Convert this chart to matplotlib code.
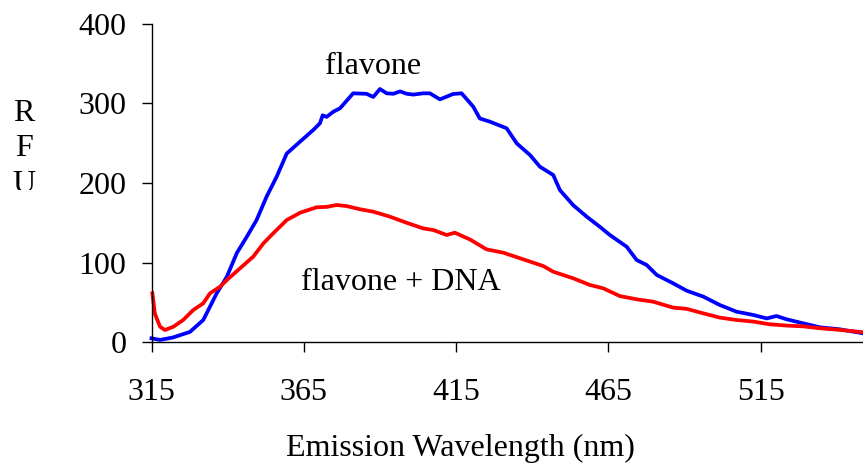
import numpy as np
import matplotlib.pyplot as plt
from matplotlib.transforms import Bbox, TransformedBbox

# emission spectra (nm, RFU)
wl_flavone = [315, 317.8, 322, 327.6, 332, 336.4, 339.7, 343, 346.3, 349.5, 352.8, 356.1,
              359.4, 363.8, 368.1, 370.3, 371.2, 372.5, 374.7, 376.9, 381.2, 385.6, 387.8,
              390, 392.2, 394.4, 396.6, 398.8, 401, 404.2, 406.4, 409.7, 414, 416.8, 420.6,
              422.8, 426.1, 431.6, 434.9, 439.3, 442.5, 446.9, 449.1, 453.5, 457.9, 462.2,
              465.5, 471, 474.3, 477.6, 480.9, 486.3, 490.7, 496.2, 501.6, 507.1, 512.6,
              517, 520.2, 523.5, 529, 534.5, 541, 548.6]
rfu_flavone = [5, 3, 6, 13, 28, 61.5, 82, 112, 132.6, 153.5, 183, 208,
               237, 252, 266.5, 275, 285, 283, 289.5, 293.8, 312.6, 312, 308,
               318, 312.6, 312, 315, 312, 311, 312.6, 312.6, 305, 311.7, 312.6, 296,
               281, 277, 268.7, 249.8, 235, 220.5, 210, 191, 172, 157.7, 145,
               134.7, 120, 103.3, 97, 84.5, 74, 64.8, 57.3, 46.8, 38.4, 34.3,
               30, 33, 28.9, 23.8, 18.8, 16.3, 11.3]

wl_dna = [315.3, 316.1, 317.8, 319.4, 322.2, 325.4, 328.7, 332, 334.2, 337.5, 339.7, 344.1,
          348.4, 351.7, 355, 359.4, 363.8, 369.2, 372.5, 375.8, 379.1, 383.5, 387.8, 393.3,
          398.8, 404.2, 407.5, 411.9, 414.6, 419.6, 425, 430.5, 436, 443.6, 446.9, 453.5,
          458.9, 463.3, 468.8, 474.3, 479.7, 486.3, 490.7, 496.2, 501.6, 507.1, 512.6, 518,
          523.5, 529, 534.5, 541, 548.6]
rfu_dna = [61.5, 36, 19.6, 15.4, 19.6, 28, 40.5, 49, 61.5, 69.8, 78, 93,
           107.5, 124, 137, 153.5, 162.7, 169.5, 170, 172.4, 171, 167, 164, 157.7,
           150, 143, 141, 134.7, 137.6, 129, 116.7, 112.5, 105.5, 95.8, 88.6, 80.3,
           72, 67.8, 58, 54, 51, 43.5, 42, 36.3, 31, 28, 26, 22.6,
           21, 20, 17.6, 15.6, 12.6]

xticks = [315, 365, 415, 465, 515]
yticks = [0, 100, 200, 300, 400]

plt.rcParams['font.family'] = ['Liberation Serif', 'DejaVu Serif']
plt.rcParams['font.size'] = 23

fig = plt.figure(figsize=(8.63, 4.65), dpi=100)
ax = fig.add_axes([151.5 / 863, 1 - 342.3 / 465, 1 - 151.5 / 863, (342.3 - 23.7) / 465])

ax.plot(wl_flavone, rfu_flavone, color='#0000ff', lw=2.7, clip_on=False)
ax.plot(wl_dna, rfu_dna, color='#ff0000', lw=2.7, clip_on=False)

ax.set_xlim(315, 548.6)
ax.set_ylim(0, 400)
ax.set_xticks(xticks)
ax.set_yticks(yticks)
ax.spines['top'].set_visible(False)
ax.spines['right'].set_visible(False)
ax.spines['left'].set_linewidth(1.0)
ax.spines['bottom'].set_linewidth(1.0)
ax.tick_params(axis='y', direction='out', length=7, width=1, pad=11)
ax.tick_params(axis='x', direction='out', length=7, width=1, pad=19)

ax.text(387.7, 337, 'flavone', ha='center', va='baseline')
ax.text(396.7, 65.5, 'flavone + DNA', ha='center', va='baseline')

fig.text(460 / 863, 1 - 456 / 465, 'Emission Wavelength (nm)', ha='center', va='baseline')

clip = TransformedBbox(Bbox([[0, 1 - 190 / 465], [1, 1]]), fig.transFigure)
for i, ch in enumerate('RFU'):
    t = fig.text(24 / 863, 1 - (121 + 35.5 * i) / 465, ch, ha='center', va='baseline')
    t.set_clip_box(clip)
    t.set_clip_on(True)

fig.savefig('out.png', dpi=100)
